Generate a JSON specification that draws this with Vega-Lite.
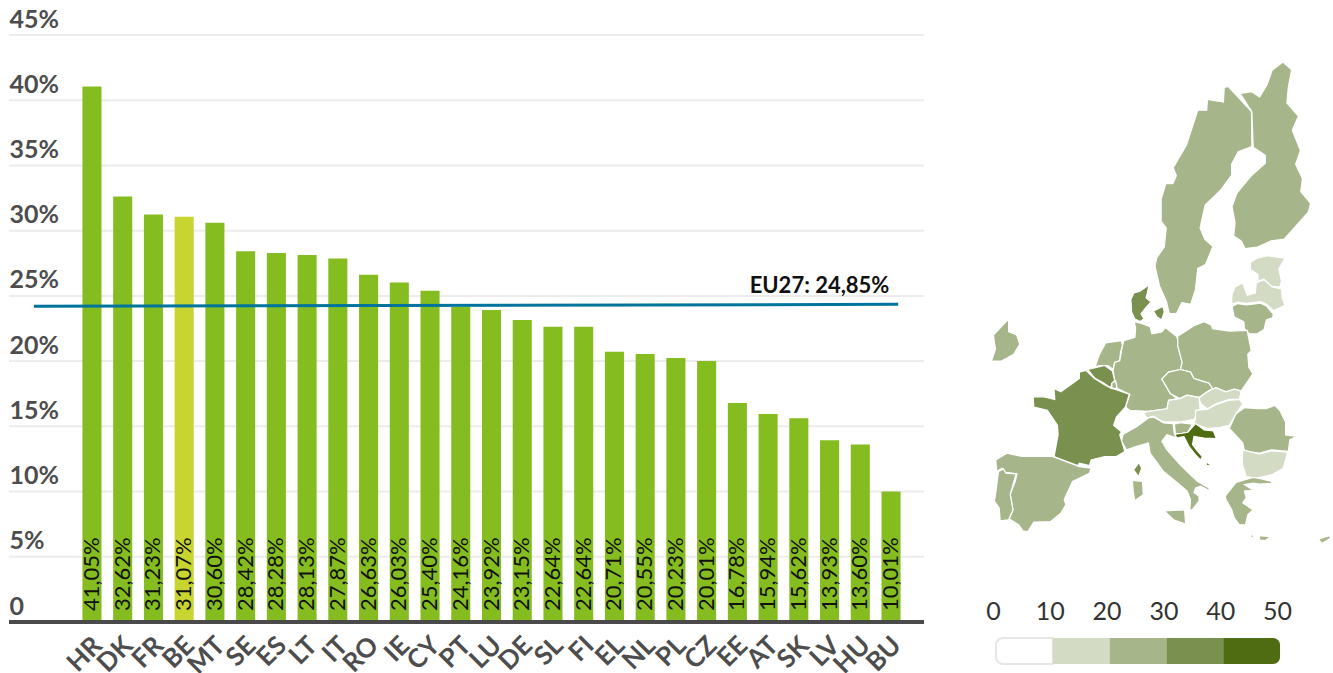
{
"$schema":"https://vega.github.io/schema/vega-lite/v6.json",
"background":"white",
"padding":{"left":7,"top":7,"right":0,"bottom":0},
"bounds":"flush",
"spacing":16,
"config":{"view":{"stroke":null},"font":"Lato","text":{"font":"Lato"}},
"hconcat":[
{"width":915,"height":587,
 "resolve":{"scale":{"x":"independent"},"axis":{"x":"independent"}},
 "layer":[
 {"data":{"values":[{"g":5},{"g":10},{"g":15},{"g":20},{"g":25},{"g":30},{"g":35},{"g":40},{"g":45}]},
  "mark":{"type":"rule","color":"#ececec","strokeWidth":2},
  "encoding":{"y":{"field":"g","type":"quantitative"}}},
 {"data":{"name":"bars"},
  "mark":{"type":"bar"},
  "encoding":{
   "x":{"field":"code","type":"nominal","sort":null,"title":null,
    "scale":{"range":[67.6,897.4],"paddingInner":0.38,"paddingOuter":0.19},
    "axis":{"domain":false,"ticks":false,"labelAngle":-45,"labelAlign":"right","labelBaseline":"middle","labelFontSize":26,"labelFontWeight":700,"labelColor":"#4d4d4d","labelPadding":19,"labelOffset":6,"labelOverlap":false,"labelBound":false,"labelFlush":false}},
   "y":{"field":"value","type":"quantitative","title":null,
    "scale":{"domain":[0,45],"nice":false},
    "axis":{"values":[0,5,10,15,20,25,30,35,40,45],"domain":false,"ticks":false,"grid":false,"labelExpr":"datum.value===0?'0':datum.value+'%'","labelAlign":"left","labelBaseline":"alphabetic","labelPadding":0,"labelOffset":-8,"labelFontSize":25,"labelFontWeight":700,"labelColor":"#4d4d4d","labelBound":false,"labelFlush":false,"labelOverlap":false}},
   "color":{"field":"group","type":"nominal","legend":null,"scale":{"domain":["EU","BE"],"range":["#85bc20","#c8d530"]}}
  }},
 {"data":{"name":"bars"},
  "mark":{"type":"text","angle":270,"align":"left","baseline":"middle","dx":11,"fontSize":22,"color":"#111111"},
  "encoding":{
   "x":{"field":"code","type":"nominal","sort":null,"axis":null,
    "scale":{"range":[67.6,897.4],"paddingInner":0.38,"paddingOuter":0.19}},
   "y":{"datum":0,"type":"quantitative"},
   "text":{"field":"label","type":"nominal"}
  }},
 {"data":{"values":[{"rank":-1.89,"share":24.2},{"rank":26.23,"share":24.35}]},
  "mark":{"type":"line","color":"#00749c","strokeWidth":3},
  "encoding":{
   "x":{"field":"rank","type":"quantitative","axis":null,"scale":{"domain":[-2.7,27.07],"nice":false,"zero":false}},
   "y":{"field":"share","type":"quantitative"}
  }},
 {"data":{"values":[{"rank":23.67,"share":25.77,"t":"EU27: 24,85%"}]},
  "mark":{"type":"text","fontSize":22,"fontWeight":700,"color":"#111111","align":"center","baseline":"middle"},
  "encoding":{
   "x":{"field":"rank","type":"quantitative","axis":null,"scale":{"domain":[-2.7,27.07],"nice":false,"zero":false}},
   "y":{"field":"share","type":"quantitative"},
   "text":{"field":"t","type":"nominal"}
  }},
 {"data":{"values":[{"zero":0}]},
  "mark":{"type":"rule","color":"#4a4a4a","strokeWidth":4},
  "encoding":{"y":{"field":"zero","type":"quantitative"}}}
 ]},
{"spacing":20,"bounds":"flush","vconcat":[
 {"width":393,"height":583,
  "data":{"values":[
{"type":"Feature","properties":{"code":"SE","value":28.42},"geometry":{"type":"Polygon","coordinates":[[[20.8,68.9],[23.8,67.7],[23.85,65.94],[22.1,65.67],[21.25,65.0],[21.25,64.4],[19.8,63.53],[17.85,62.68],[17.2,61.3],[17.8,60.6],[18.85,60.14],[17.9,58.97],[16.9,58.7],[16.6,57.26],[16.0,56.23],[14.85,56.35],[14.15,55.55],[13.25,55.55],[12.85,56.46],[12.0,57.5],[11.4,58.86],[11.65,59.43],[12.6,60.1],[12.85,61.3],[12.2,61.7],[12.2,63.03],[12.8,63.92],[13.7,63.92],[14.15,64.36],[13.75,64.8],[15.45,66.02],[16.9,67.77],[18.05,67.77],[18.15,68.29],[20.2,68.16],[20.3,68.85],[20.8,68.9]]]}},
{"type":"Feature","properties":{"code":"FI","value":22.64},"geometry":{"type":"Polygon","coordinates":[[[21.4,69.1],[22.45,68.58],[23.77,68.66],[24.85,68.41],[25.8,68.98],[26.45,69.63],[27.84,70.0],[28.96,69.66],[28.53,68.85],[28.35,68.12],[29.83,67.48],[29.05,66.78],[30.09,65.73],[29.48,65.0],[30.35,64.2],[30.13,63.47],[31.39,62.78],[31.13,62.28],[28.0,60.6],[26.36,60.5],[24.55,60.1],[22.99,60.0],[22.47,60.5],[21.52,60.8],[21.69,61.64],[21.3,62.6],[21.95,63.4],[23.77,64.36],[25.58,65.05],[25.58,65.48],[24.03,65.9],[23.85,67.7],[21.4,69.1]]]}},
{"type":"Feature","properties":{"code":"EE","value":16.78},"geometry":{"type":"Polygon","coordinates":[[[23.64,59.09],[24.42,59.36],[25.84,59.54],[28.1,59.38],[27.32,58.67],[27.66,57.83],[27.45,57.44],[26.36,57.5],[25.41,58.0],[24.63,57.83],[24.63,58.29],[23.68,58.63],[23.64,59.09]]]}},
{"type":"Feature","properties":{"code":"LV","value":13.93},"geometry":{"type":"Polygon","coordinates":[[[21.25,56.23],[21.3,56.92],[21.69,57.44],[22.68,57.72],[23.25,56.87],[24.29,57.03],[24.42,57.72],[25.41,57.95],[26.45,57.44],[27.66,57.31],[27.75,56.69],[28.1,56.16],[26.67,55.77],[25.71,56.23],[24.98,56.42],[23.12,56.3],[22.03,56.39],[21.25,56.23]]]}},
{"type":"Feature","properties":{"code":"LT","value":28.13},"geometry":{"type":"Polygon","coordinates":[[[21.3,56.07],[22.03,56.28],[23.12,56.18],[24.98,56.3],[25.71,56.11],[26.62,55.5],[26.5,55.25],[25.71,55.09],[25.41,54.38],[24.55,54.06],[23.55,54.06],[22.9,54.45],[22.81,54.97],[21.6,55.3],[21.3,56.07]]]}},
{"type":"Feature","properties":{"code":"DK","value":32.62},"geometry":{"type":"MultiPolygon","coordinates":[[[[10.65,57.6],[10.43,57.03],[10.26,56.69],[10.9,56.39],[10.26,56.01],[9.61,55.55],[10.0,55.16],[9.48,54.97],[8.83,55.16],[8.4,55.68],[8.31,56.58],[8.7,57.03],[9.48,57.15],[10.65,57.6]]],[[[12.42,56.07],[12.6,55.68],[12.25,55.09],[11.65,55.32],[11.21,55.74],[12.42,56.07]]]]}},
{"type":"Feature","properties":{"code":"IE","value":26.03},"geometry":{"type":"Polygon","coordinates":[[[-7.4,55.16],[-7.4,54.22],[-6.36,53.97],[-5.97,53.27],[-6.75,52.49],[-8.3,51.95],[-9.6,51.95],[-9.09,52.88],[-9.35,53.97],[-7.4,55.16]]]}},
{"type":"Feature","properties":{"code":"NL","value":20.55},"geometry":{"type":"Polygon","coordinates":[[[3.72,51.51],[4.29,52.5],[5.06,53.36],[7.1,53.54],[7.23,53.15],[6.97,52.63],[6.88,51.98],[6.23,51.85],[6.02,51.28],[5.37,51.6],[4.29,51.6],[3.72,51.51]]]}},
{"type":"Feature","properties":{"code":"BE","value":31.07},"geometry":{"type":"Polygon","coordinates":[[[2.77,51.28],[4.94,51.6],[5.93,51.15],[6.23,50.42],[5.93,50.16],[5.67,49.8],[4.72,50.22],[3.64,50.6],[2.77,51.28]]]}},
{"type":"Feature","properties":{"code":"LU","value":23.92},"geometry":{"type":"Polygon","coordinates":[[[5.84,50.16],[6.36,50.35],[6.54,49.74],[5.89,49.74],[5.84,50.16]]]}},
{"type":"Feature","properties":{"code":"DE","value":23.15},"geometry":{"type":"Polygon","coordinates":[[[8.74,54.97],[9.7,54.84],[10.78,54.59],[11.0,54.06],[12.29,54.2],[12.73,54.53],[14.16,53.88],[14.5,53.42],[14.33,53.15],[14.89,51.85],[14.68,51.28],[13.16,51.07],[12.29,50.5],[13.38,49.31],[14.24,48.88],[13.16,48.74],[12.94,48.02],[10.56,47.79],[8.18,47.88],[7.62,48.17],[8.18,49.23],[6.54,49.74],[6.36,50.35],[6.23,50.42],[6.02,51.2],[6.23,51.85],[6.88,51.98],[7.23,53.15],[7.4,53.54],[8.83,53.8],[8.92,54.45],[8.74,54.97]]]}},
{"type":"Feature","properties":{"code":"PL","value":20.23},"geometry":{"type":"Polygon","coordinates":[[[14.33,53.88],[16.41,54.66],[17.71,54.97],[18.66,54.71],[18.79,54.45],[20.95,54.27],[23.25,54.32],[23.55,53.42],[23.77,52.76],[23.33,52.5],[23.46,51.46],[23.98,50.94],[22.47,49.51],[21.6,49.68],[20.52,49.45],[19.22,49.8],[18.57,49.45],[18.35,50.16],[17.06,50.42],[16.41,50.55],[15.97,51.07],[14.68,51.28],[14.89,51.85],[14.33,53.15],[14.33,53.88]]]}},
{"type":"Feature","properties":{"code":"CZ","value":20.01},"geometry":{"type":"Polygon","coordinates":[[[14.68,51.28],[15.97,51.07],[16.41,50.55],[17.06,50.42],[18.35,50.16],[18.79,49.74],[18.14,49.45],[17.06,48.99],[15.54,49.17],[14.59,48.88],[13.38,49.31],[12.29,50.5],[13.16,51.07],[14.68,51.28]]]}},
{"type":"Feature","properties":{"code":"SK","value":15.62},"geometry":{"type":"Polygon","coordinates":[[[18.79,49.68],[19.22,49.8],[20.52,49.45],[21.6,49.68],[22.47,49.51],[22.25,48.82],[20.95,48.82],[19.22,48.45],[18.14,48.02],[17.27,48.45],[17.06,48.94],[18.14,49.45],[18.79,49.68]]]}},
{"type":"Feature","properties":{"code":"AT","value":15.94},"geometry":{"type":"Polygon","coordinates":[[[9.91,47.68],[10.56,47.79],[12.94,48.02],[13.16,48.74],[14.59,48.88],[15.54,49.17],[17.06,48.97],[17.19,48.02],[16.41,47.1],[14.68,46.87],[12.51,46.87],[11.21,47.39],[10.35,47.22],[9.91,47.68]]]}},
{"type":"Feature","properties":{"code":"HU","value":13.6},"geometry":{"type":"Polygon","coordinates":[[[16.62,47.88],[18.14,47.96],[19.22,48.37],[20.95,48.74],[22.25,48.82],[22.68,48.45],[21.82,47.59],[20.95,46.58],[19.65,46.38],[18.14,46.3],[16.41,46.73],[16.62,47.16],[16.62,47.88]]]}},
{"type":"Feature","properties":{"code":"SL","value":22.64},"geometry":{"type":"Polygon","coordinates":[[[13.9,46.67],[14.68,46.81],[16.19,46.67],[15.63,45.96],[14.89,45.87],[14.03,45.79],[13.9,46.67]]]}},
{"type":"Feature","properties":{"code":"HR","value":41.05},"geometry":{"type":"MultiPolygon","coordinates":[[[[13.94,45.7],[14.03,45.79],[14.89,45.87],[15.63,45.96],[16.62,46.73],[17.71,46.16],[18.92,46.07],[19.31,45.38],[17.71,45.44],[16.41,45.58],[16.23,44.84],[16.84,44.28],[17.49,43.75],[17.27,43.43],[16.62,43.9],[15.76,44.69],[15.11,45.58],[14.24,45.44],[13.94,45.7]]],[[[17.92,43.25],[18.7,42.95],[18.05,42.9],[17.92,43.25]]]]}},
{"type":"Feature","properties":{"code":"RO","value":26.63},"geometry":{"type":"Polygon","coordinates":[[[21.82,47.59],[22.9,48.11],[24.63,48.02],[25.71,48.02],[26.8,48.31],[27.45,47.88],[28.18,46.87],[28.18,45.72],[29.61,45.58],[28.74,45.29],[28.53,44.22],[26.36,44.37],[24.85,44.06],[22.9,44.22],[22.68,45.0],[20.95,46.3],[21.82,47.59]]]}},
{"type":"Feature","properties":{"code":"BU","value":10.01},"geometry":{"type":"Polygon","coordinates":[[[22.68,44.37],[24.85,43.97],[26.36,44.28],[28.44,44.15],[27.88,42.65],[26.36,42.02],[24.42,41.71],[23.12,41.87],[22.6,43.12],[22.68,44.37]]]}},
{"type":"Feature","properties":{"code":"EL","value":20.71},"geometry":{"type":"MultiPolygon","coordinates":[[[[20.43,39.97],[21.82,41.3],[23.98,41.77],[24.98,41.65],[26.28,41.4],[26.49,41.93],[26.4,41.2],[24.85,41.14],[23.98,41.23],[22.9,41.08],[23.55,40.77],[24.2,40.55],[22.9,40.46],[23.12,39.8],[22.68,39.29],[23.98,38.6],[23.33,38.1],[23.03,37.08],[22.25,37.08],[21.6,37.76],[21.26,38.6],[20.52,39.63],[20.43,39.97]]],[[[24.75,35.95],[26.25,35.85],[25.6,35.45],[24.9,35.5],[24.75,35.95]]],[[[23.6,36.1],[24.2,35.95],[23.85,35.7],[23.6,36.1]]]]}},
{"type":"Feature","properties":{"code":"CY","value":25.4},"geometry":{"type":"Polygon","coordinates":[[[32.4,35.6],[33.8,35.95],[34.0,35.72],[32.85,35.15],[32.4,35.6]]]}},
{"type":"Feature","properties":{"code":"IT","value":27.87},"geometry":{"type":"MultiPolygon","coordinates":[[[[7.32,45.79],[9.05,46.44],[10.56,47.22],[11.21,47.3],[12.51,46.79],[13.72,46.73],[13.9,45.79],[14.24,45.44],[12.94,45.73],[12.29,45.14],[12.94,44.37],[14.68,42.96],[15.97,42.02],[16.84,41.4],[18.35,40.77],[18.35,40.52],[17.27,40.93],[16.62,40.77],[16.41,40.3],[17.06,39.97],[17.06,39.46],[16.19,38.6],[15.89,38.6],[15.97,39.63],[15.54,40.46],[13.81,41.55],[12.51,42.34],[10.78,44.06],[10.56,45.0],[9.05,44.69],[7.75,44.37],[7.1,45.14],[7.32,45.79]]],[[[12.6,38.5],[15.2,38.6],[15.35,37.15],[13.81,37.6],[12.6,38.5]]],[[[8.5,41.5],[9.8,41.4],[9.9,40.1],[8.8,39.5],[8.6,40.46],[8.5,41.5]]]]}},
{"type":"Feature","properties":{"code":"FR","value":31.23},"geometry":{"type":"MultiPolygon","coordinates":[[[[2.55,51.2],[3.64,50.55],[4.81,50.09],[5.8,49.74],[6.23,49.68],[8.1,49.25],[7.62,48.17],[6.45,47.3],[6.1,46.58],[7.1,46.01],[6.88,45.73],[7.4,44.53],[7.53,44.22],[6.45,43.75],[4.94,43.75],[3.2,43.43],[2.99,42.9],[1.69,43.12],[1.47,42.9],[-1.56,43.75],[-1.04,45.73],[-1.13,46.58],[-2.42,47.88],[-4.16,48.17],[-4.24,49.03],[-2.86,49.03],[-1.47,48.8],[-1.56,49.74],[-0.69,49.45],[1.69,50.55],[1.69,51.07],[2.55,51.2]]],[[[9.35,43.2],[9.7,42.65],[9.3,41.85],[8.65,42.49],[9.35,43.2]]]]}},
{"type":"Feature","properties":{"code":"ES","value":28.28},"geometry":{"type":"Polygon","coordinates":[[[-9.05,43.43],[-7.62,44.06],[-5.67,43.75],[-1.77,43.75],[1.69,42.81],[3.2,42.65],[2.99,42.18],[0.82,41.4],[-0.26,39.63],[-0.04,39.12],[-0.69,38.27],[-1.99,37.42],[-4.16,37.35],[-4.9,36.4],[-5.5,36.4],[-6.1,37.08],[-7.32,37.69],[-6.84,38.6],[-7.19,40.14],[-6.54,41.4],[-6.32,42.12],[-7.84,42.27],[-8.27,42.65],[-8.92,42.34],[-9.05,43.43]]]}},
{"type":"Feature","properties":{"code":"PT","value":24.16},"geometry":{"type":"Polygon","coordinates":[[[-8.7,42.34],[-8.05,42.59],[-7.75,42.18],[-6.45,42.12],[-6.75,41.33],[-7.19,40.14],[-6.84,38.6],[-7.4,37.59],[-8.48,37.49],[-8.61,38.78],[-9.22,39.46],[-9.05,40.3],[-8.7,42.34]]]}}
  ]},
  "projection":{"type":"mercator","scale":446,"translate":[126.2,801]},
  "mark":{"type":"geoshape","stroke":"white","strokeWidth":1.2},
  "encoding":{"color":{"field":"properties.value","type":"quantitative","legend":null,"scale":{"type":"threshold","domain":[10,20,30,40],"range":["#ffffff","#d3dbc4","#a7b58b","#7a904e","#4f6c12"]}}}
 },
 {"width":393,"height":26,
  "data":{"values":[{"from":0,"to":10,"bin":"a"},{"from":10,"to":20,"bin":"b"},{"from":20,"to":30,"bin":"c"},{"from":30,"to":40,"bin":"d"},{"from":40,"to":50,"bin":"e"}]},
  "layer":[
  {"transform":[{"filter":"datum.from==0"}],
   "mark":{"type":"rect","stroke":"#e6e6e6","strokeWidth":2,"cornerRadiusTopLeft":7,"cornerRadiusBottomLeft":7,"fill":"#ffffff"},
   "encoding":{
    "x":{"field":"from","type":"quantitative","title":null,"scale":{"domain":[-9.86,59.33],"nice":false,"zero":false},
     "axis":{"orient":"top","values":[0,10,20,30,40,50],"domain":false,"ticks":false,"grid":false,"labelFontSize":25,"labelColor":"#333333","labelPadding":14,"labelOffset":-3,"labelFlush":false,"labelBound":false,"labelOverlap":false}},
    "x2":{"field":"to"}
   }},
  {"transform":[{"filter":"datum.from>0 && datum.from<40"}],
   "mark":{"type":"rect"},
   "encoding":{
    "x":{"field":"from","type":"quantitative"},"x2":{"field":"to"},
    "color":{"field":"bin","type":"nominal","legend":null,"scale":{"domain":["a","b","c","d","e"],"range":["#ffffff","#d3dbc4","#a7b58b","#7a904e","#4f6c12"]}}
   }},
  {"transform":[{"filter":"datum.from==40"}],
   "mark":{"type":"rect","cornerRadiusTopRight":7,"cornerRadiusBottomRight":7},
   "encoding":{
    "x":{"field":"from","type":"quantitative"},"x2":{"field":"to"},
    "color":{"field":"bin","type":"nominal","legend":null,"scale":{"domain":["a","b","c","d","e"],"range":["#ffffff","#d3dbc4","#a7b58b","#7a904e","#4f6c12"]}}
   }}
  ]}
 ]}
],
"datasets":{"bars":[
{"code":"HR","value":41.05,"label":"41,05%","group":"EU"},
{"code":"DK","value":32.62,"label":"32,62%","group":"EU"},
{"code":"FR","value":31.23,"label":"31,23%","group":"EU"},
{"code":"BE","value":31.07,"label":"31,07%","group":"BE"},
{"code":"MT","value":30.6,"label":"30,60%","group":"EU"},
{"code":"SE","value":28.42,"label":"28,42%","group":"EU"},
{"code":"ES","value":28.28,"label":"28,28%","group":"EU"},
{"code":"LT","value":28.13,"label":"28,13%","group":"EU"},
{"code":"IT","value":27.87,"label":"27,87%","group":"EU"},
{"code":"RO","value":26.63,"label":"26,63%","group":"EU"},
{"code":"IE","value":26.03,"label":"26,03%","group":"EU"},
{"code":"CY","value":25.4,"label":"25,40%","group":"EU"},
{"code":"PT","value":24.16,"label":"24,16%","group":"EU"},
{"code":"LU","value":23.92,"label":"23,92%","group":"EU"},
{"code":"DE","value":23.15,"label":"23,15%","group":"EU"},
{"code":"SL","value":22.64,"label":"22,64%","group":"EU"},
{"code":"FI","value":22.64,"label":"22,64%","group":"EU"},
{"code":"EL","value":20.71,"label":"20,71%","group":"EU"},
{"code":"NL","value":20.55,"label":"20,55%","group":"EU"},
{"code":"PL","value":20.23,"label":"20,23%","group":"EU"},
{"code":"CZ","value":20.01,"label":"20,01%","group":"EU"},
{"code":"EE","value":16.78,"label":"16,78%","group":"EU"},
{"code":"AT","value":15.94,"label":"15,94%","group":"EU"},
{"code":"SK","value":15.62,"label":"15,62%","group":"EU"},
{"code":"LV","value":13.93,"label":"13,93%","group":"EU"},
{"code":"HU","value":13.6,"label":"13,60%","group":"EU"},
{"code":"BU","value":10.01,"label":"10,01%","group":"EU"}
]}
}
